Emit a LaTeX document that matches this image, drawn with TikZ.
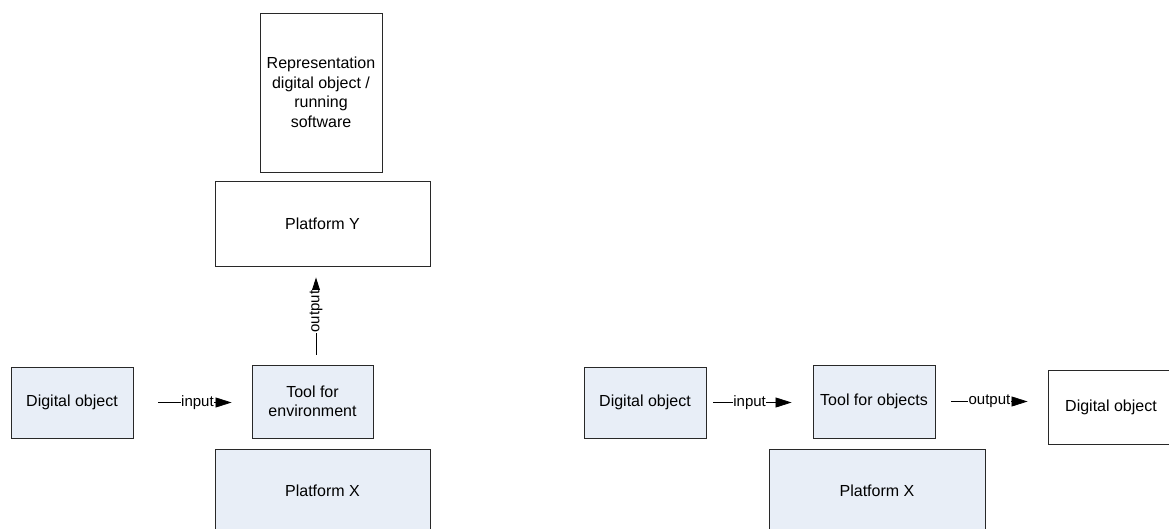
\documentclass[tikz,border=0pt]{standalone}
\usepackage{fontspec}
\setmainfont{Liberation Sans}
\usetikzlibrary{arrows.meta}
\definecolor{boxfill}{RGB}{232,238,247}
\definecolor{boxline}{RGB}{40,40,40}
\begin{document}
\begin{tikzpicture}[x=1pt,y=-1pt,
  box/.style={draw=boxline, line width=0.9pt, inner sep=0pt, align=center,
    font=\fontsize{16}{19.5}\selectfont},
  bluebox/.style={box, fill=boxfill},
  whitebox/.style={box, fill=white},
  conn/.style={draw=black, line width=0.8pt, -{Triangle[length=16pt,width=10pt]}},
  lbl/.style={fill=white, inner sep=0.3pt, font=\fontsize{15}{17}\selectfont}
]
\useasboundingbox (0,0) rectangle (1169,529);

% left group
\node[bluebox, minimum width=122pt, minimum height=71pt] (do1) at (72,402.5) {Digital object};
\node[bluebox, minimum width=121pt, minimum height=73pt] (tool1) at (312.5,401.5) {Tool for\\environment};
\node[bluebox, minimum width=215pt, minimum height=84pt] (platX1) at (322.5,491) {Platform X};
\node[whitebox, minimum width=215pt, minimum height=85pt] (platY) at (322.5,223.5) {Platform Y};
\node[whitebox, minimum width=122pt, minimum height=159pt] (rep) at (321,92.5) {Representation\\digital object /\\running\\software};

\draw[conn, shorten <=25pt, shorten >=20pt] (do1.east) -- (do1.east -| tool1.west)
  node[lbl, pos=0.542] {input};
\draw[conn, shorten <=10pt, shorten >=11pt] ([xshift=3.5pt]tool1.north) -- ([xshift=3.5pt]tool1.north |- platY.south)
  node[lbl, pos=0.54, rotate=90] {output};

% right group
\node[bluebox, minimum width=122pt, minimum height=71pt] (do2) at (645,402.5) {Digital object};
\node[bluebox, minimum width=122pt, minimum height=73pt] (tool2) at (874,401.5) {Tool for objects};
\node[bluebox, minimum width=216pt, minimum height=84pt] (platX2) at (877,491) {Platform X};
\node[whitebox, minimum width=126pt, minimum height=74pt] (do3) at (1111,407) {Digital object};

\draw[conn, shorten <=7pt, shorten >=21pt] (do2.east) -- (do2.east -| tool2.west)
  node[lbl, pos=0.407] {input};
\draw[conn, shorten <=16pt, shorten >=20pt] (tool2.east) -- (tool2.east -| do3.west)
  node[lbl, pos=0.482] {output};
\end{tikzpicture}
\end{document}
